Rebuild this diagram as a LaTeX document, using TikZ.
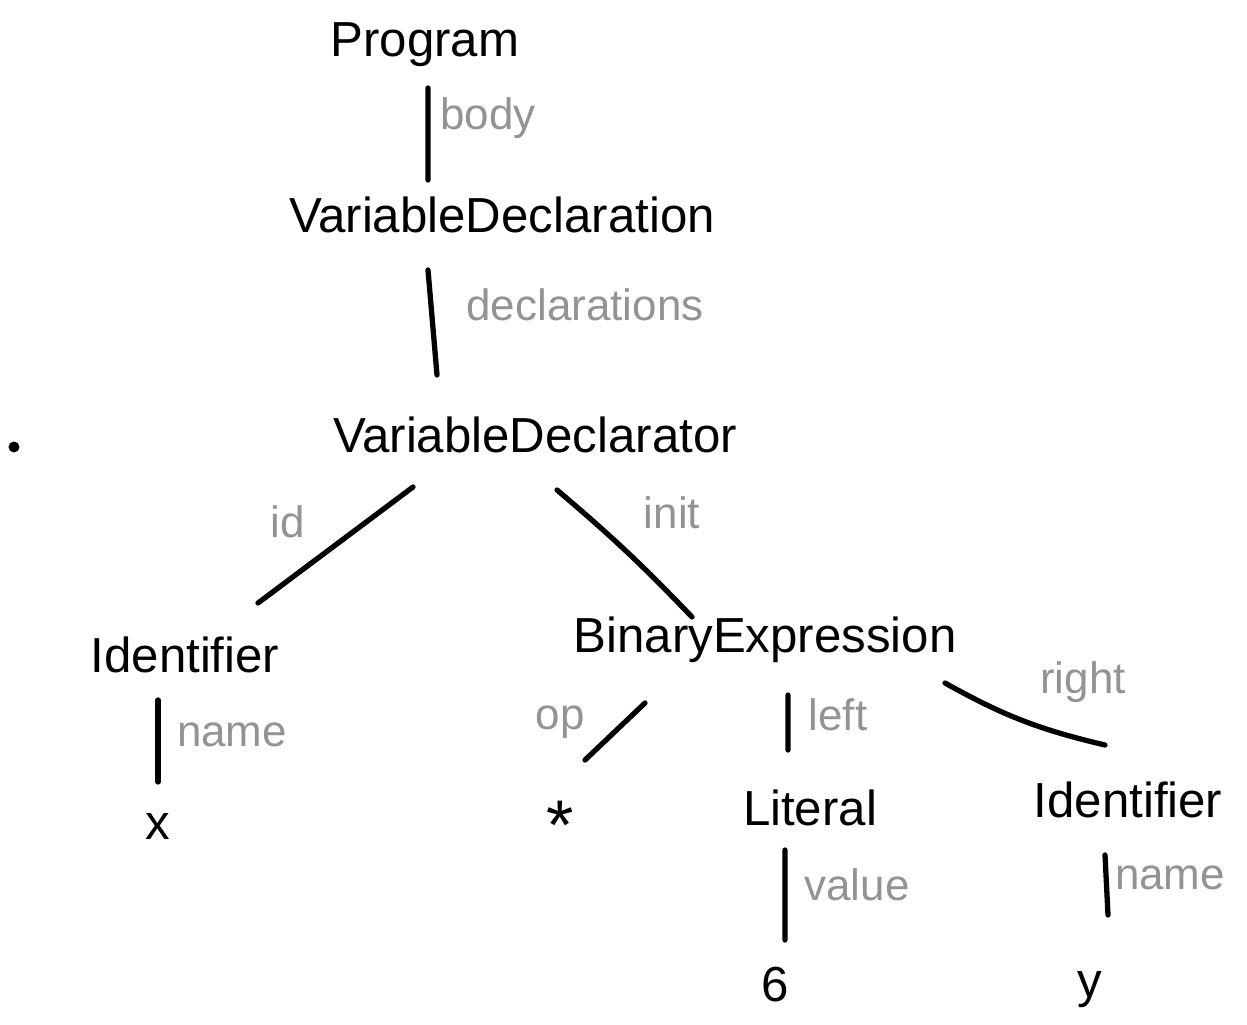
\documentclass[tikz,border=0pt]{standalone}
\usepackage{fontspec}
\setmainfont{Liberation Sans}
\tikzset{
  ast/.style={font=\fontsize{14}{16}\selectfont, inner sep=1pt},
  lbl/.style={font=\fontsize{12.5}{15}\selectfont, text=gray!85, inner sep=1pt},
  edge/.style={line width=1.5pt, line cap=round}
}
\begin{document}
\begin{tikzpicture}
  \useasboundingbox (0,0) rectangle (12.47,-10.25);

  % tree nodes
  \node[ast] (prog)  at (4.25,-0.45) {Program};
  \node[ast] (vdecl) at (5.02,-2.15) {VariableDeclaration};
  \node[ast] (vdr)   at (5.35,-4.35) {VariableDeclarator};
  \node[ast] (idl)   at (1.85,-6.55) {Identifier};
  \node[ast] (bin)   at (7.65,-6.40) {BinaryExpression};
  \node[ast] (xval)  at (1.58,-8.26) {x};
  \node[ast, font=\fontsize{20}{22}\selectfont] (star) at (5.60,-8.25) {*};
  \node[ast] (lit)   at (8.10,-8.08) {Literal};
  \node[ast] (idr)   at (11.28,-8.00) {Identifier};
  \node[ast] (six)   at (7.75,-9.85) {6};
  \node[ast] (yval)  at (10.90,-9.90) {y};
  \fill (0.14,-4.47) circle (0.055);

  % edges
  \draw[edge] ([shift={(0.03,-0.43)}]prog.center) -- ([shift={(-0.74,0.35)}]vdecl.center);
  \draw[edge] ([shift={(-0.74,-0.55)}]vdecl.center) -- ([shift={(-0.98,0.60)}]vdr.center);
  \draw[edge] ([shift={(-1.22,-0.52)}]vdr.center) -- ([shift={(0.73,0.52)}]idl.center);
  \draw[edge] ([shift={(0.22,-0.55)}]vdr.center) to[bend left=3] ([shift={(-0.73,0.23)}]bin.center);
  \draw[edge] ([shift={(-0.27,-0.45)}]idl.center) -- ([shift={(0,0.44)}]xval.center);
  \draw[edge] ([shift={(-1.20,-0.63)}]bin.center) -- ([shift={(0.25,0.65)}]star.center);
  \draw[edge] ([shift={(0.23,-0.55)}]bin.center) -- ([shift={(-0.22,0.58)}]lit.center);
  \draw[edge] ([shift={(1.80,-0.43)}]bin.center) to[bend right=8] ([shift={(-0.23,0.55)}]idr.center);
  \draw[edge] ([shift={(-0.25,-0.42)}]lit.center) -- ([shift={(0.10,0.45)}]six.center);
  \draw[edge] ([shift={(-0.23,-0.55)}]idr.center) -- ([shift={(0.18,0.75)}]yval.center);

  % edge labels
  \node[lbl] (lbody)  at (4.88,-1.18) {body};
  \node[lbl] (ldecls) at (5.85,-3.05) {declarations};
  \node[lbl] (lid)    at (2.88,-5.22) {id};
  \node[lbl] (linit)  at (6.72,-5.13) {init};
  \node[lbl] (lname)  at (2.32,-7.35) {name};
  \node[lbl] (lop)    at (5.60,-7.22) {op};
  \node[lbl] (lleft)  at (8.38,-7.15) {left};
  \node[lbl] (lvalue) at (8.57,-8.85) {value};
  \node[lbl] (lright) at (10.83,-6.82) {right};
  \node[lbl] (lname2) at (11.70,-8.78) {name};
\end{tikzpicture}
\end{document}
